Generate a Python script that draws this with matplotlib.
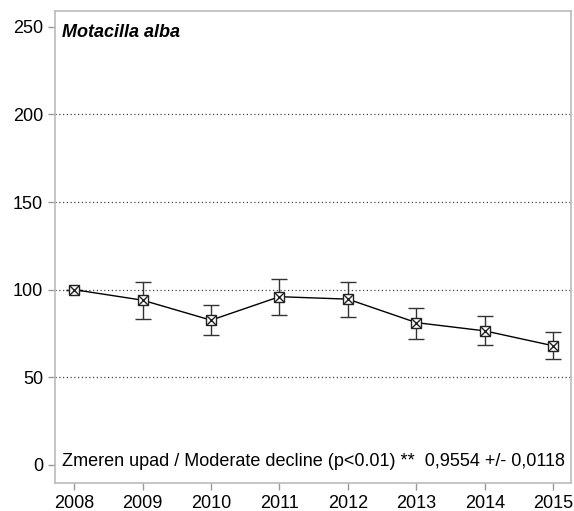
import matplotlib
matplotlib.use("Agg")
import matplotlib.pyplot as plt

years = [2008, 2009, 2010, 2011, 2012, 2013, 2014, 2015]
index = [100, 94, 82.6, 96, 94.6, 81.2, 76.5, 68]
upper = [100, 104.3, 91.5, 106, 104.5, 89.8, 84.8, 75.8]
lower = [100, 83.5, 73.9, 85.6, 84.6, 71.9, 68.2, 60.2]
yticks = [0, 50, 100, 150, 200, 250]
grid_levels = [50, 100, 150, 200]
title = "Motacilla alba"
note = "Zmeren upad / Moderate decline (p<0.01) **  0,9554 +/- 0,0118"

plt.rcParams['font.family'] = ['Liberation Sans', 'DejaVu Sans']

fig = plt.figure(figsize=(5.74, 5.11), dpi=100)
ax = fig.add_axes([55/574, 1-483/511, (571-55)/574, (483-11)/511])

for g in grid_levels:
    ax.axhline(g, color='#444444', linestyle=(0, (1, 2)), linewidth=0.9, zorder=0)

yerr = [[i - l for i, l in zip(index, lower)], [u - i for i, u in zip(index, upper)]]
ax.errorbar(years, index, yerr=yerr, fmt='none', ecolor='#333333', elinewidth=1.0,
            capsize=6, capthick=1.0, zorder=2)
ax.plot(years, index, color='black', linewidth=1.0, zorder=3)
ax.plot(years, index, linestyle='none', marker='s', markersize=7, markerfacecolor='white',
        markeredgecolor='#222222', markeredgewidth=1.0, zorder=4)
ax.plot(years, index, linestyle='none', marker='x', markersize=7, color='#222222',
        markeredgewidth=1.0, zorder=5)

ax.set_xlim(2007.72, 2015.26)
ax.set_ylim(-10.3, 259)
ax.set_xticks(years)
ax.set_yticks(yticks)
ax.tick_params(labelsize=13, color='#999999', length=5, width=1)
for s in ax.spines.values():
    s.set_color('#bbbbbb')
    s.set_linewidth(1.2)

ax.text(0.013, 0.955, title, transform=ax.transAxes, fontsize=13, fontweight='bold',
        fontstyle='italic', va='center', ha='left')
ax.text(0.5, 0.045, note, transform=ax.transAxes, fontsize=13, va='center', ha='center')

fig.savefig("out.png", dpi=100)
